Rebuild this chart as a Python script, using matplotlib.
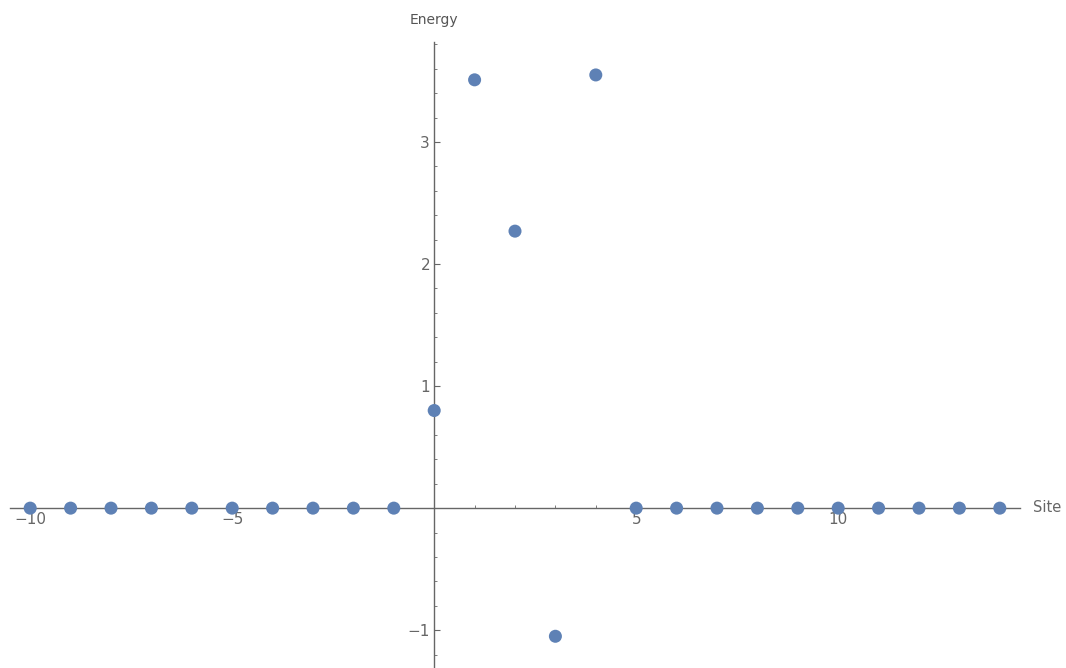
import matplotlib
matplotlib.use("Agg")
import matplotlib.pyplot as plt
from matplotlib.ticker import MultipleLocator, FixedLocator

sites = list(range(-10, 15))
energy = [0]*10 + [0.80, 3.51, 2.27, -1.05, 3.55] + [0]*10
xticks = [-10, -5, 5, 10]
yticks = [-1, 1, 2, 3]

fig = plt.figure(figsize=(10.66, 6.68), dpi=100)
ax = fig.add_axes([10/1066, 0, 1010/1066, 626/668])
ax.set_xlim(-10.5, 14.5)
ax.set_ylim(-1.31, 3.82)

axis_col = "#666666"
for s in ["top", "right"]:
    ax.spines[s].set_visible(False)
ax.spines["left"].set_position(("data", 0))
ax.spines["bottom"].set_position(("data", 0))
for s in ["left", "bottom"]:
    ax.spines[s].set_color(axis_col)
    ax.spines[s].set_linewidth(1.0)

ax.xaxis.set_major_locator(FixedLocator(xticks))
ax.yaxis.set_major_locator(FixedLocator(yticks))
ax.xaxis.set_minor_locator(MultipleLocator(1))
ax.yaxis.set_minor_locator(MultipleLocator(0.2))
ax.tick_params(which="major", direction="in", length=4, width=0.8, color=axis_col,
               labelsize=11, labelcolor="#666666", pad=3)
ax.tick_params(which="minor", direction="in", length=2.5, width=0.6, color=axis_col)
ax.set_xticklabels([f"{t}".replace("-", "\u2212") for t in xticks])
ax.set_yticklabels([f"{t}".replace("-", "\u2212") for t in yticks])

ax.scatter(sites, energy, s=88, color="#5E81B5", zorder=3, clip_on=False, edgecolors="none")

fig.text(434/1066, 1 - 20/668, "Energy", ha="center", va="center", fontsize=10, color="#555555")
fig.text(1033/1066, 1 - 508/668, "Site", ha="left", va="center", fontsize=10.5, color="#666666")

fig.savefig("out.png", dpi=100)
